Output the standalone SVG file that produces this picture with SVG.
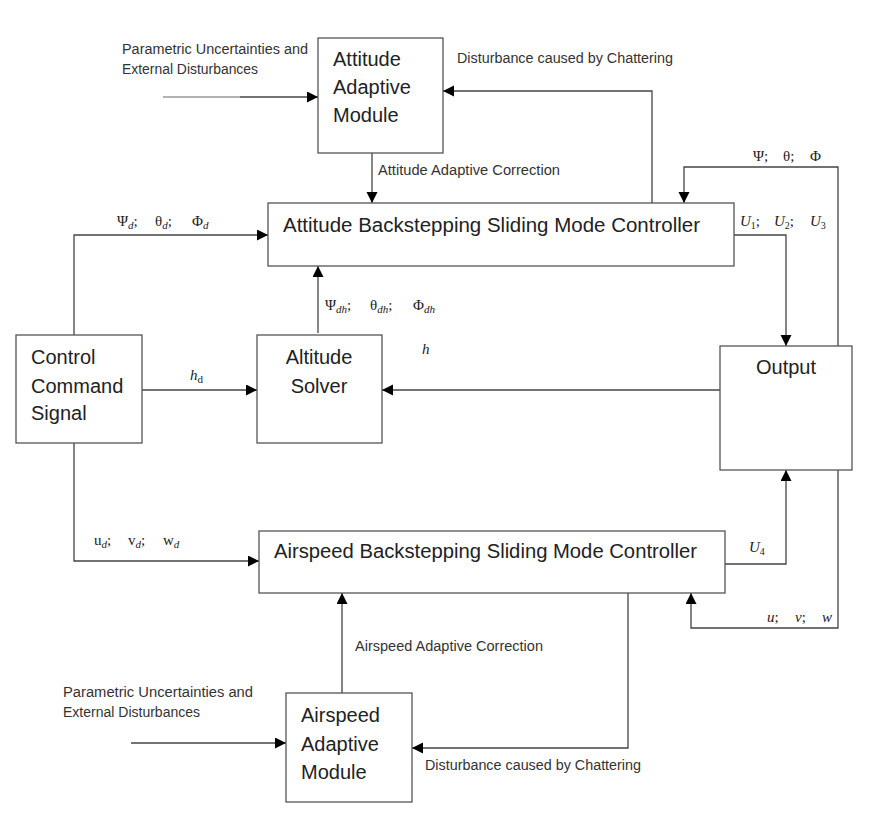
<svg xmlns="http://www.w3.org/2000/svg" width="875" height="822" viewBox="0 0 875 822">
<style>
.box{fill:#fff;stroke:#555;stroke-width:1.3}
.big{font-family:"Liberation Sans",Arial,sans-serif;font-size:20px;fill:#222}
.sm{font-family:"Liberation Sans",Arial,sans-serif;font-size:14px;fill:#333}
.m{font-family:"Liberation Serif","DejaVu Serif",serif;font-size:15px;fill:#222}
.sub{font-style:italic;font-size:11px}
.con path{fill:none;stroke:#444;stroke-width:1.3}
.con path.light{stroke:#999}
</style>
<defs>
<marker id="ah" markerWidth="12" markerHeight="12" refX="11" refY="5.5" orient="auto" markerUnits="userSpaceOnUse">
<path d="M0,0 L11,5.5 L0,11 z" fill="#000"/>
</marker>
</defs>
<rect width="875" height="822" fill="#fff"/>

<g id="connectors" class="con">
<path class="light" d="M163,97 H240"/>
<path d="M240,97 H318" marker-end="url(#ah)"/>
<path d="M652,203 V91 H443" marker-end="url(#ah)"/>
<path d="M372,153 V203" marker-end="url(#ah)"/>
<path d="M74,335 V235 H268" marker-end="url(#ah)"/>
<path d="M838,346 V167 H684 V203" marker-end="url(#ah)"/>
<path d="M734,235 H786 V346" marker-end="url(#ah)"/>
<path d="M318,333 V266" marker-end="url(#ah)"/>
<path d="M142,390 H257" marker-end="url(#ah)"/>
<path d="M720,390 H382" marker-end="url(#ah)"/>
<path d="M74,443 V561 H259" marker-end="url(#ah)"/>
<path d="M725,564 H786 V470" marker-end="url(#ah)"/>
<path d="M838,470 V628 H691 V593" marker-end="url(#ah)"/>
<path d="M342,693 V593" marker-end="url(#ah)"/>
<path d="M131,743 H286" marker-end="url(#ah)"/>
<path d="M628,593 V748 H412" marker-end="url(#ah)"/>
</g>

<g id="labels">
<text class="sm" x="122" y="54" textLength="186" lengthAdjust="spacingAndGlyphs">Parametric Uncertainties and</text>
<text class="sm" x="122" y="74" textLength="136" lengthAdjust="spacingAndGlyphs">External Disturbances</text>
<text class="sm" x="457" y="63" textLength="216" lengthAdjust="spacingAndGlyphs">Disturbance caused by Chattering</text>
<text class="sm" x="378" y="175" textLength="182" lengthAdjust="spacingAndGlyphs">Attitude Adaptive Correction</text>
<text class="sm" x="355" y="651" textLength="188" lengthAdjust="spacingAndGlyphs">Airspeed Adaptive Correction</text>
<text class="sm" x="63" y="697" textLength="190" lengthAdjust="spacingAndGlyphs">Parametric Uncertainties and</text>
<text class="sm" x="63" y="717" textLength="137" lengthAdjust="spacingAndGlyphs">External Disturbances</text>
<text class="sm" x="425" y="770" textLength="216" lengthAdjust="spacingAndGlyphs">Disturbance caused by Chattering</text>

<text class="m" x="117" y="226">Ψ<tspan class="sub" dy="3">d</tspan><tspan dy="-3">;</tspan></text>
<text class="m" x="155" y="226">θ<tspan class="sub" dy="3">d</tspan><tspan dy="-3">;</tspan></text>
<text class="m" x="192" y="226">Φ<tspan class="sub" dy="3">d</tspan></text>

<text class="m" x="325" y="310">Ψ<tspan class="sub" dy="3">dh</tspan><tspan dy="-3">;</tspan></text>
<text class="m" x="370" y="310">θ<tspan class="sub" dy="3">dh</tspan><tspan dy="-3">;</tspan></text>
<text class="m" x="413" y="310">Φ<tspan class="sub" dy="3">dh</tspan></text>

<text class="m" x="753" y="161">Ψ;</text>
<text class="m" x="783" y="161">θ;</text>
<text class="m" x="810" y="161">Φ</text>

<text class="m" x="740" y="226"><tspan font-style="italic">U</tspan><tspan font-size="10" dy="3">1</tspan><tspan dy="-3">;</tspan></text>
<text class="m" x="774" y="226"><tspan font-style="italic">U</tspan><tspan font-size="10" dy="3">2</tspan><tspan dy="-3">;</tspan></text>
<text class="m" x="810" y="226"><tspan font-style="italic">U</tspan><tspan font-size="10" dy="3">3</tspan></text>

<text class="m" x="190" y="380"><tspan font-style="italic">h</tspan><tspan font-size="11" dy="3">d</tspan></text>
<text class="m" x="422" y="354" font-style="italic">h</text>

<text class="m" x="94" y="545">u<tspan class="sub" dy="3">d</tspan><tspan dy="-3">;</tspan></text>
<text class="m" x="128" y="545">v<tspan class="sub" dy="3">d</tspan><tspan dy="-3">;</tspan></text>
<text class="m" x="163" y="545">w<tspan class="sub" dy="3">d</tspan></text>

<text class="m" x="749" y="552"><tspan font-style="italic">U</tspan><tspan font-size="10" dy="3">4</tspan></text>

<text class="m" x="767" y="622"><tspan font-style="italic">u</tspan>;</text>
<text class="m" x="795" y="622"><tspan font-style="italic">v</tspan>;</text>
<text class="m" x="822" y="622" font-style="italic">w</text>
</g>

<g id="attitude-adaptive">
<rect class="box" x="318" y="38" width="125" height="115"/>
<text class="big" x="333" y="66">Attitude</text>
<text class="big" x="333" y="94">Adaptive</text>
<text class="big" x="333" y="122">Module</text>
</g>

<g id="attitude-controller">
<rect class="box" x="268" y="203" width="466" height="63"/>
<text class="big" x="283" y="232" textLength="417" lengthAdjust="spacingAndGlyphs">Attitude Backstepping Sliding Mode Controller</text>
</g>

<g id="control-command">
<rect class="box" x="16" y="335" width="126" height="108"/>
<text class="big" x="31" y="364">Control</text>
<text class="big" x="31" y="393">Command</text>
<text class="big" x="31" y="420">Signal</text>
</g>

<g id="altitude-solver">
<rect class="box" x="257" y="335" width="125" height="108"/>
<text class="big" x="319" y="364" text-anchor="middle">Altitude</text>
<text class="big" x="319" y="393" text-anchor="middle">Solver</text>
</g>

<g id="output">
<rect class="box" x="720" y="346" width="132" height="124"/>
<text class="big" x="786" y="374" text-anchor="middle">Output</text>
</g>

<g id="airspeed-controller">
<rect class="box" x="259" y="531" width="466" height="62"/>
<text class="big" x="274" y="558" textLength="423" lengthAdjust="spacingAndGlyphs">Airspeed Backstepping Sliding Mode Controller</text>
</g>

<g id="airspeed-adaptive">
<rect class="box" x="286" y="693" width="126" height="109"/>
<text class="big" x="301" y="722">Airspeed</text>
<text class="big" x="301" y="751">Adaptive</text>
<text class="big" x="301" y="779">Module</text>
</g>
</svg>
